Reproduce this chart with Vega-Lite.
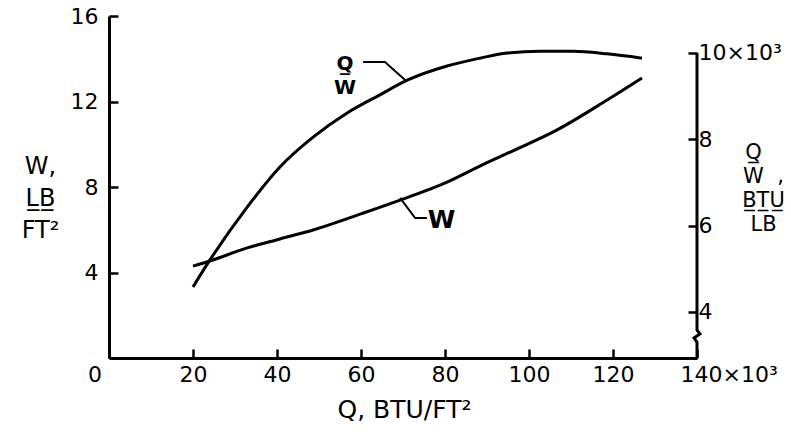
{
  "$schema": "https://vega.github.io/schema/vega-lite/v6.json",
  "width": 588,
  "height": 342,
  "autosize": {"type": "none"},
  "padding": {"left": 109, "top": 16, "right": 94, "bottom": 76},
  "background": "white",
  "config": {
    "view": {"stroke": null},
    "font": "DejaVu Sans",
    "axis": {
      "domainColor": "black", "domainWidth": 3, "tickColor": "black", "tickWidth": 2.5,
      "labelColor": "black", "titleColor": "black", "grid": false,
      "labelFont": "DejaVu Sans", "titleFont": "DejaVu Sans", "labelFontSize": 22,
      "titleFontWeight": "normal", "labelFlush": false, "labelOverlap": false
    }
  },
  "datasets": {
    "w": [
      {"Q": 20, "W": 4.30}, {"Q": 24, "W": 4.54}, {"Q": 32.9, "W": 5.15}, {"Q": 40.7, "W": 5.57},
      {"Q": 48.6, "W": 5.99}, {"Q": 60.5, "W": 6.78}, {"Q": 69.3, "W": 7.39}, {"Q": 80.5, "W": 8.23},
      {"Q": 88.3, "W": 8.98}, {"Q": 94.8, "W": 9.57}, {"Q": 106.7, "W": 10.67}, {"Q": 118.6, "W": 12.07},
      {"Q": 126.9, "W": 13.10}
    ],
    "qw": [
      {"Q": 20, "QW": 4.58}, {"Q": 24, "QW": 5.20}, {"Q": 32.9, "QW": 6.43}, {"Q": 40.7, "QW": 7.36},
      {"Q": 48.6, "QW": 8.05}, {"Q": 56.7, "QW": 8.61}, {"Q": 64.5, "QW": 9.03}, {"Q": 71.0, "QW": 9.37},
      {"Q": 80.5, "QW": 9.70}, {"Q": 88.3, "QW": 9.88}, {"Q": 94.8, "QW": 10.00}, {"Q": 102.6, "QW": 10.04},
      {"Q": 110.5, "QW": 10.04}, {"Q": 118.6, "QW": 9.98}, {"Q": 126.9, "QW": 9.88}
    ],
    "lead": [
      {"id": "a", "k": 1, "Q": 60.5, "W": 13.85}, {"id": "a", "k": 2, "Q": 65.7, "W": 13.85},
      {"id": "a", "k": 3, "Q": 70.5, "W": 13.01},
      {"id": "b", "k": 1, "Q": 69.3, "W": 7.49}, {"id": "b", "k": 2, "Q": 72.9, "W": 6.55},
      {"id": "b", "k": 3, "Q": 75.7, "W": 6.55}
    ],
    "labels": [
      {"name": "qw", "Q": 56.2, "W": 13.75, "t": "Q\u0332\nW"},
      {"name": "w", "Q": 79.2, "W": 6.46, "t": "W"}
    ],
    "origin": [{"Q": 0, "W": 0, "t": "0"}],
    "raxis": [
      {"k": 1, "Q": 140, "QW": 10}, {"k": 2, "Q": 140, "QW": 3.58}, {"k": 3, "Q": 140.7, "QW": 3.49},
      {"k": 4, "Q": 139.3, "QW": 3.40}, {"k": 5, "Q": 140, "QW": 3.30}, {"k": 6, "Q": 140, "QW": 2.934}
    ]
  },
  "layer": [
    {
      "layer": [
        {
          "data": {"name": "w"},
          "mark": {"type": "line", "color": "black", "strokeWidth": 3, "interpolate": "monotone"},
          "encoding": {
            "x": {
              "field": "Q", "type": "quantitative",
              "scale": {"domain": [0, 140], "nice": false, "zero": false},
              "axis": {
                "values": [0, 20, 40, 60, 80, 100, 120, 140],
                "tickSize": -9,
                "labelExpr": "datum.value == 140 ? '140×10³' : datum.value == 0 ? '' : datum.label",
                "labelAlign": {"condition": {"test": "datum.value == 140", "value": "left"}, "value": "center"},
                "labelOffset": {"condition": {"test": "datum.value == 140", "value": -17}, "value": 0},
                "labelBaseline": "alphabetic",
                "labelPadding": 32,
                "title": "Q,  BTU/FT²",
                "titleFontSize": 25,
                "titleBaseline": "alphabetic",
                "titleY": 59,
                "titleX": 295
              }
            },
            "y": {
              "field": "W", "type": "quantitative",
              "scale": {"domain": [0, 16], "nice": false, "zero": false},
              "axis": {
                "values": [4, 8, 12, 16],
                "tickSize": -9,
                "labelPadding": 20,
                "labelBaseline": "middle",
                "title": ["W,", "L\u0332B\u0332", "FT²"],
                "titleAngle": 0,
                "titleAlign": "center",
                "titleBaseline": "alphabetic",
                "titleX": -69,
                "titleY": 157,
                "titleFontSize": 24,
                "titleLineHeight": 32
              }
            }
          }
        },
        {
          "data": {"name": "lead"},
          "mark": {"type": "line", "color": "black", "strokeWidth": 2},
          "encoding": {
            "x": {"field": "Q", "type": "quantitative"},
            "y": {"field": "W", "type": "quantitative"},
            "detail": {"field": "id"},
            "order": {"field": "k"}
          }
        },
        {
          "data": {"name": "labels"},
          "transform": [{"filter": "datum.name == 'qw'"}],
          "mark": {"type": "text", "lineBreak": "\n", "fontSize": 20, "fontWeight": "bold", "lineHeight": 24, "baseline": "middle", "align": "center", "color": "black"},
          "encoding": {
            "x": {"field": "Q", "type": "quantitative"},
            "y": {"field": "W", "type": "quantitative"},
            "text": {"field": "t"}
          }
        },
        {
          "data": {"name": "labels"},
          "transform": [{"filter": "datum.name == 'w'"}],
          "mark": {"type": "text", "fontSize": 25, "fontWeight": "bold", "baseline": "middle", "align": "center", "color": "black"},
          "encoding": {
            "x": {"field": "Q", "type": "quantitative"},
            "y": {"field": "W", "type": "quantitative"},
            "text": {"field": "t"}
          }
        },
        {
          "data": {"name": "origin"},
          "mark": {"type": "text", "fontSize": 22, "baseline": "alphabetic", "align": "center", "dx": -14, "dy": 24, "color": "black"},
          "encoding": {
            "x": {"field": "Q", "type": "quantitative"},
            "y": {"field": "W", "type": "quantitative"},
            "text": {"field": "t"}
          }
        }
      ]
    },
    {
      "layer": [
        {
          "data": {"name": "qw"},
          "mark": {"type": "line", "color": "black", "strokeWidth": 3, "interpolate": "monotone"},
          "encoding": {
            "x": {"field": "Q", "type": "quantitative"},
            "y": {
              "field": "QW", "type": "quantitative",
              "scale": {"domain": [2.934, 10.857], "nice": false, "zero": false},
              "axis": {
                "orient": "right",
                "domain": false,
                "values": [4, 6, 8, 10],
                "tickSize": -9,
                "labelPadding": 10,
                "labelBaseline": "middle",
                "labelExpr": "datum.value == 10 ? '10×10³' : datum.label",
                "title": ["Q\u0332\u00a0\u00a0\u00a0\u200b", "W\u00a0\u00a0,", "B\u0332T\u0332U\u0332", "LB"],
                "titleAngle": 0,
                "titleAlign": "center",
                "titleBaseline": "alphabetic",
                "titleX": 66,
                "titleY": 142,
                "titleFontSize": 21,
                "titleLineHeight": 24
              }
            }
          }
        },
        {
          "data": {"name": "raxis"},
          "mark": {"type": "line", "color": "black", "strokeWidth": 3, "clip": false},
          "encoding": {
            "x": {"field": "Q", "type": "quantitative"},
            "y": {"field": "QW", "type": "quantitative"},
            "order": {"field": "k"}
          }
        }
      ]
    }
  ],
  "resolve": {"scale": {"y": "independent"}, "axis": {"y": "independent"}}
}
